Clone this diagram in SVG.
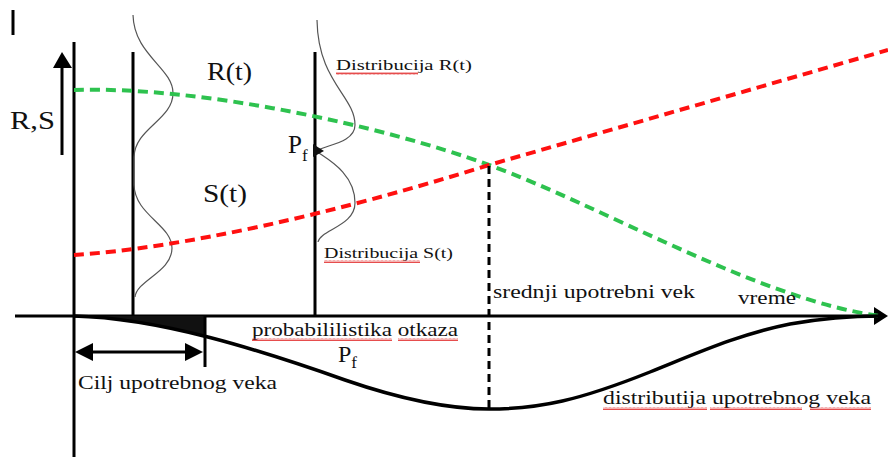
<svg xmlns="http://www.w3.org/2000/svg" width="888" height="457" viewBox="0 0 888 457">
<style>
.ax{stroke:#000;stroke-width:3;fill:none}
.bell{stroke:#555;stroke-width:1.2;fill:none}
.gr{stroke:#2ec24f;stroke-width:4;stroke-dasharray:10 6;fill:none}
.rd{stroke:#ff1010;stroke-width:4;stroke-dasharray:10 6;fill:none}
.bk{stroke:#000;stroke-width:3;stroke-dasharray:8 5;fill:none}
.life{stroke:#000;stroke-width:3.5;fill:none}
text{font-family:"Liberation Serif","DejaVu Serif",serif;fill:#111}
.big{font-size:25px}
.sm{font-size:15.5px}
.md{font-size:19px}
.wv{fill:url(#wavy)}
</style>
<defs>
<pattern id="wavy" width="4" height="3" patternUnits="userSpaceOnUse">
<path d="M0,2.5 L1,0.5 L2,2.5 L3,0.5 L4,2.5" stroke="#e02020" stroke-width="0.8" fill="none"/>
</pattern>
<clipPath id="clipTarget"><rect x="74" y="316" width="131" height="30"/></clipPath>
</defs>
<rect width="888" height="457" fill="#fff"/>
<g id="axes">
<line class="ax" x1="13" y1="10" x2="13" y2="35" stroke-width="2"/>
<line class="ax" x1="74" y1="42" x2="74" y2="457"/>
<line class="ax" x1="15" y1="316" x2="878" y2="316"/>
<polygon points="874,307 888,316 874,325" fill="#000"/>
<line class="ax" x1="62" y1="155" x2="62" y2="66"/>
<polygon points="53,68 72,68 62,52" fill="#000"/>
<line class="ax" x1="133" y1="52" x2="133" y2="316"/>
<line class="ax" x1="315" y1="52" x2="315" y2="316"/>
</g>
<g id="bells">
<path class="bell" d="M133,15 C134,55 173,68 173,93 C173,120 135,128 134,157 L134,185 C135,215 172,225 172,248 C172,272 137,280 135,297"/>
<path class="bell" d="M317,20 C318,82 355,96 355,125 C355,143 325,145 316,151 C325,158 355,172 355,203 C355,226 320,230 318,242"/>
<polygon points="313,144 324,151 313,157" fill="#111"/>
</g>
<g id="connectors">
<path class="gr" d="M74,90 C200,86 380,125 489,165 C600,205 760,300 880,316"/>
<path class="rd" d="M74,255 C180,248 330,215 489,165 L888,50"/>
<line class="bk" x1="489" y1="166" x2="489" y2="412"/>
<path d="M74,316 C160,318 260,350 345,380 L345,316 Z" fill="#111" clip-path="url(#clipTarget)"/>
<path class="life" d="M74,316 C160,318 260,350 345,380 C400,399 450,409 489,409 C540,409 580,400 650,372 C700,352 740,334 790,324 C830,317 860,316 880,316"/>
<line class="ax" x1="205" y1="316" x2="205" y2="367"/>
<line class="ax" x1="88" y1="352" x2="190" y2="352"/>
<polygon points="75,352 93,343 93,361" fill="#000"/>
<polygon points="203,352 185,343 185,361" fill="#000"/>
</g>
<g id="labels">
<text class="big" x="207" y="80" textLength="45" lengthAdjust="spacingAndGlyphs">R(t)</text>
<text class="big" x="10" y="129" textLength="45" lengthAdjust="spacingAndGlyphs">R,S</text>
<text class="big" x="203" y="202" textLength="44" lengthAdjust="spacingAndGlyphs">S(t)</text>
<text class="big" x="288" y="153">P<tspan font-size="17" dy="8">f</tspan></text>
<text class="sm" x="336" y="70" textLength="136" lengthAdjust="spacingAndGlyphs">Distribucija  R(t)</text>
<rect class="wv" x="336" y="72" width="82" height="3"/>
<text class="sm" x="324" y="258" textLength="129" lengthAdjust="spacingAndGlyphs">Distribucija S(t)</text>
<rect class="wv" x="324" y="260" width="96" height="3"/>
<text class="md" x="493" y="298" textLength="202" lengthAdjust="spacingAndGlyphs">srednji upotrebni vek</text>
<text class="md" x="738" y="304" textLength="58" lengthAdjust="spacingAndGlyphs">vreme</text>
<text class="md" x="252" y="336" textLength="206" lengthAdjust="spacingAndGlyphs">probabililistika otkaza</text>
<rect class="wv" x="252" y="338" width="140" height="3"/>
<rect class="wv" x="398" y="338" width="60" height="3"/>
<text x="338" y="362" font-size="24">P<tspan font-size="17" dy="6">f</tspan></text>
<text class="md" x="78" y="389" textLength="199" lengthAdjust="spacingAndGlyphs">Cilj upotrebnog veka</text>
<text class="md" x="603" y="404" textLength="268" lengthAdjust="spacingAndGlyphs">distributija upotrebnog veka</text>
<rect class="wv" x="603" y="407" width="104" height="3"/>
<rect class="wv" x="710" y="407" width="92" height="3"/>
<rect class="wv" x="810" y="407" width="61" height="3"/>
</g>
</svg>
